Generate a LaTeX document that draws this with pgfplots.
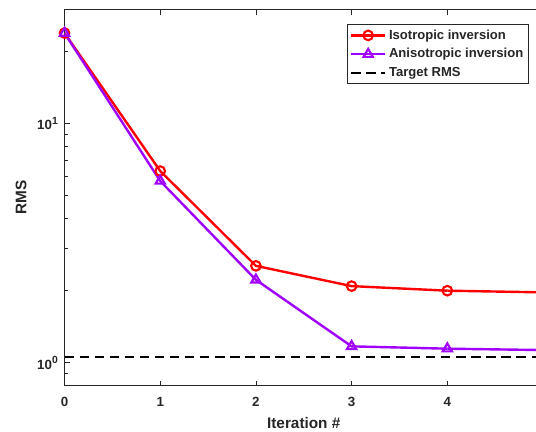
\documentclass[border=0pt]{standalone}
\usepackage{fontspec}
\setmainfont{Liberation Sans}
\usepackage{pgfplots}
\pgfplotsset{compat=1.18}
\definecolor{txt}{HTML}{262626}
\definecolor{iso}{rgb}{1,0,0}
\definecolor{aniso}{HTML}{A000FF}
\newcommand{\myexp}[1]{\raisebox{0.42em}{\fontsize{7.8}{9}\selectfont\bfseries #1}}
\begin{document}
\begin{tikzpicture}
\begin{axis}[
  scale only axis, width=358.9pt, height=282.3pt,
  xmin=0, xmax=5, ymode=log, ymin=0.8, ymax=30,
  /pgf/number format/assume math mode=true,
  xtick={0,1,2,3,4},
  ytick={1,10}, yticklabels={10\myexp{0},10\myexp{1}},
  minor ytick={0.8,0.9,2,3,4,5,6,7,8,9,20,30},
  tick align=inside, tick pos=both,
  major tick length=4pt, minor tick length=2.6pt,
  every tick/.style={txt, line width=0.5pt},
  axis line style={txt, line width=0.5pt},
  ticklabel style={font=\fontsize{10}{12}\selectfont\bfseries, text=txt},
  xticklabel style={yshift=-5pt},
  yticklabel style={xshift=-1.5pt},
  xlabel={Iteration \#}, ylabel={RMS},
  every axis x label/.style={at={(rel axis cs:0.5,-0.0983)}, anchor=center,
    font=\fontsize{11.5}{13}\selectfont\bfseries, text=txt},
  every axis y label/.style={at={(rel axis cs:-0.0908,0.5)}, anchor=center, rotate=90,
    font=\fontsize{11.5}{13}\selectfont\bfseries, text=txt},
  legend style={at={(rel axis cs:1,1)}, anchor=north east, xshift=-10.5pt, yshift=-10.9pt,
    draw=txt, line width=0.5pt, font=\fontsize{9.8}{11.5}\selectfont\bfseries, text=txt,
    inner xsep=2pt, inner ysep=2pt, row sep=1.5pt, cells={anchor=west}},
  legend image code/.code={\draw[mark repeat=2,mark phase=2,#1] plot coordinates {(0pt,0pt) (12.75pt,0pt) (25.5pt,0pt)};},
]
\coordinate (SW) at (rel axis cs:0,0);
\coordinate (NE) at (rel axis cs:1,1);
\addplot[iso, line width=1.8pt, mark=o, mark size=3.6pt, mark options={solid, line width=1.6pt}]
  coordinates {(0,23.9)(1,6.33)(2,2.54)(3,2.09)(4,2.0)};
\addlegendentry{Isotropic inversion}
\addplot[aniso, line width=1.8pt, mark=triangle, mark size=4pt, mark options={solid, line width=1.6pt}]
  coordinates {(0,23.9)(1,5.75)(2,2.22)(3,1.17)(4,1.144)};
\addlegendentry{Anisotropic inversion}
\addplot[black, line width=1.8pt, dash pattern=on 7pt off 4.3pt]
  coordinates {(0,1.055)(5,1.055)};
\addlegendentry{Target RMS}
\addplot[iso, line width=1.8pt, forget plot] coordinates {(4,2.0)(5,1.968)};
\addplot[aniso, line width=1.8pt, forget plot] coordinates {(4,1.144)(5,1.129)};
\end{axis}
\pgfresetboundingbox
\path[use as bounding box] ([xshift=-48.4pt,yshift=-34.6pt]SW) rectangle ([xshift=-5.25pt,yshift=7.1pt]NE);
\end{tikzpicture}
\end{document}
